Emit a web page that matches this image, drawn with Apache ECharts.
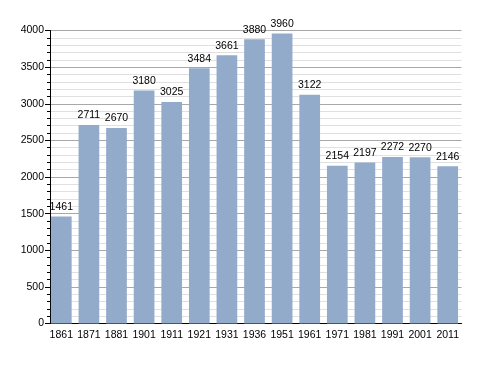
<!DOCTYPE html>
<html><head><meta charset="utf-8">
<script src="https://cdn.jsdelivr.net/npm/echarts@6/dist/echarts.min.js"></script>
<style>html,body{margin:0;padding:0;background:#fff}#c{width:488px;height:373px}</style>
</head><body><div id="c"></div>
<script>
const years = ['1861','1871','1881','1901','1911','1921','1931','1936','1951','1961','1971','1981','1991','2001','2011'];
const population = [1461,2711,2670,3180,3025,3484,3661,3880,3960,3122,2154,2197,2272,2270,2146];
const yTicks = {min:0, max:4000, interval:500};
const font = 'Liberation Sans, Arial, sans-serif';
const chart = echarts.init(document.getElementById('c'));
chart.setOption({
  animation:false,
  grid:{left:47.5,right:26.5,top:30.5,bottom:49.5},
  xAxis:{type:'category',data:years,
    axisLine:{lineStyle:{color:'#000',width:1}},
    axisTick:{show:false},
    axisLabel:{color:'#000',fontFamily:font,fontSize:10.5,margin:6,interval:0}},
  yAxis:{type:'value',min:yTicks.min,max:yTicks.max,interval:yTicks.interval,offset:-2.5,
    axisLine:{show:true,lineStyle:{color:'#000'}},
    axisTick:{show:true,length:5,lineStyle:{color:'#000'}},
    minorTick:{show:true,splitNumber:5,length:3,lineStyle:{color:'#000'}},
    splitLine:{lineStyle:{color:'#a8a8a8'}},
    minorSplitLine:{show:true,lineStyle:{color:'#e0e0e0'}},
    axisLabel:{color:'#000',fontFamily:font,fontSize:10.5,margin:6,formatter:v=>String(v)}},
  series:[{type:'bar',data:population,barWidth:'75%',
    itemStyle:{color:'#93abcb'},
    label:{show:true,position:'top',color:'#000',fontFamily:font,fontSize:10.5,distance:4}}]
});
</script></body></html>
